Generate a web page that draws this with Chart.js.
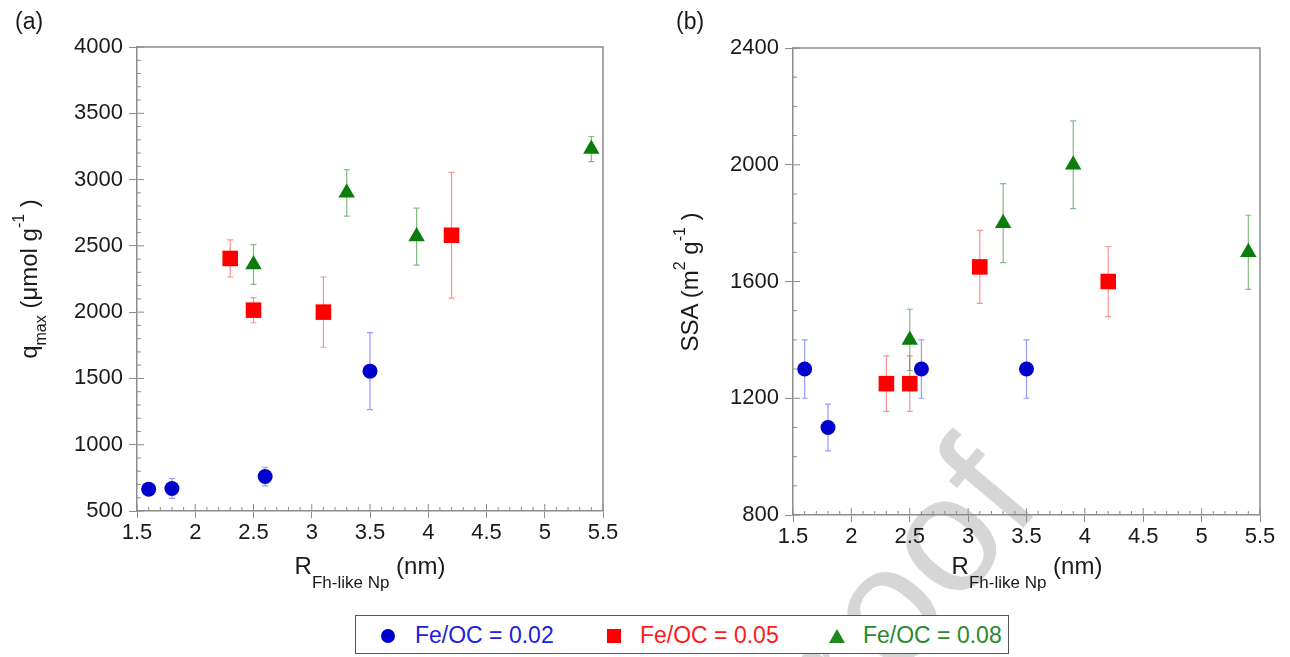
<!DOCTYPE html>
<html>
<head>
<meta charset="utf-8">
<script src="https://cdn.jsdelivr.net/npm/chart.js@4.4.0/dist/chart.umd.min.js"></script>
<style>
  html, body { margin: 0; padding: 0; background: #fff; }
  body { width: 1290px; height: 657px; position: relative; overflow: hidden; font-family: "Liberation Sans", Arial, sans-serif; color: #1a1a1a; }
  .abs { position: absolute; }
  .panel { position: absolute; top: 10px; font-size: 23px; line-height: 23px; }
  .xtitle { position: absolute; top: 551px; width: 300px; text-align: center; font-size: 24px; line-height: 30px; white-space: nowrap; }
  .xtitle span { font-size: 17px; vertical-align: -14px; line-height: 0; }
  .ytitle { position: absolute; width: 300px; height: 30px; line-height: 30px; text-align: center; font-size: 24px; white-space: nowrap; transform: rotate(-90deg); }
  .ytitle sub { font-size: 16px; vertical-align: -9px; line-height: 0; }
  .ytitle sup { font-size: 16px; vertical-align: 13px; line-height: 0; }
  #watermark { position: absolute; width: 300px; height: 165px; line-height: 165px; text-align: center; font-size: 165px; color: #d6d6d6; white-space: nowrap; transform: rotate(-50deg); left: 759px; top: 494px; }
  #legend { position: absolute; left: 355px; top: 615px; width: 652px; height: 37px; border: 1.5px solid #555; background: #fff; }
  .ltext { position: absolute; top: 615px; line-height: 40px; font-size: 23px; white-space: nowrap; }
</style>
</head>
<body>
<div id="watermark">roof</div>
<canvas id="chartA" class="abs" width="640" height="600" style="left:0;top:0"></canvas>
<canvas id="chartB" class="abs" width="650" height="600" style="left:640px;top:0"></canvas>

<div class="panel" style="left:15px">(a)</div>
<div class="panel" style="left:676px">(b)</div>

<div class="ytitle" style="left:-121px;top:264px">q<sub>max</sub> (μmol g<sup>-1</sup> )</div>
<div class="ytitle" style="left:540px;top:267px">SSA (m<sup>2</sup> g<sup>-1</sup> )</div>

<div class="xtitle" style="left:220px">R<span>Fh-like Np</span> (nm)</div>
<div class="xtitle" style="left:877px">R<span>Fh-like Np</span> (nm)</div>

<div id="legend"></div>
<div class="abs" style="left:381px;top:629px;width:14px;height:14px;border-radius:50%;background:#0000cc"></div>
<div class="ltext" style="left:415px;color:#2020dd">Fe/OC = 0.02</div>
<div class="abs" style="left:607px;top:629px;width:14px;height:14px;background:#ff0000"></div>
<div class="ltext" style="left:640px;color:#ff1a1a">Fe/OC = 0.05</div>
<div class="abs" style="left:829px;top:629px;width:0;height:0;border-left:8px solid transparent;border-right:8px solid transparent;border-bottom:14px solid #1e8a1e"></div>
<div class="ltext" style="left:863px;color:#2a8a2a">Fe/OC = 0.08</div>

<script>
// particle radius (nm) for each Fe/OC ratio
const r002 = [1.6, 1.8, 2.6, 3.5];
const r005 = [2.3, 2.5, 3.1, 4.2];
const r008 = [2.5, 3.3, 3.9, 5.4];

// (a) q_max (µmol/g) and errors
const qmax002 = [665, 670, 760, 1555];
const qmaxErr002 = [30, 75, 70, 290];
const qmax005 = [2405, 2015, 2000, 2580];
const qmaxErr005 = [140, 95, 265, 475];
const qmax008 = [2360, 2900, 2570, 3230];
const qmaxErr008 = [150, 175, 215, 95];

// (b) SSA (m2/g) and errors
const ssa002 = [1300, 1100, 1300, 1300];
const ssaErr002 = [100, 80, 100, 100];
const ssa005 = [1250, 1250, 1650, 1600];
const ssaErr005 = [95, 95, 125, 120];
const ssa008 = [1400, 1800, 2000, 1700];
const ssaErr008 = [105, 135, 150, 127];

const seriesLabels = ["Fe/OC = 0.02", "Fe/OC = 0.05", "Fe/OC = 0.08"];
const xTicks = [1.5, 2, 2.5, 3, 3.5, 4, 4.5, 5, 5.5];

const FONT = "'Liberation Sans', Arial, sans-serif";
const AXIS = "#8c8c8c";

function pts(xs, ys) {
    return xs.map((x, i) => ({ x: x, y: ys[i] }));
}

// draw error bars under the markers
const errorBars = {
    id: "errorBars",
    beforeDatasetsDraw(chart) {
        const ctx = chart.ctx;
        const x = chart.scales.x, y = chart.scales.y;
        chart.data.datasets.forEach(ds => {
            ctx.save();
            ctx.strokeStyle = ds.errColor;
            ctx.lineWidth = 1.2;
            ds.data.forEach((p, i) => {
                const e = ds.errors[i];
                const px = x.getPixelForValue(p.x);
                const top = y.getPixelForValue(p.y + e);
                const bot = y.getPixelForValue(p.y - e);
                ctx.beginPath();
                ctx.moveTo(px, top); ctx.lineTo(px, bot);
                ctx.moveTo(px - 3, top); ctx.lineTo(px + 3, top);
                ctx.moveTo(px - 3, bot); ctx.lineTo(px + 3, bot);
                ctx.stroke();
            });
            ctx.restore();
        });
    }
};

// box frame + inner major / minor ticks
const frameTicks = {
    id: "frameTicks",
    afterDraw(chart, args, opts) {
        const ctx = chart.ctx, a = chart.chartArea;
        const x = chart.scales.x, y = chart.scales.y;
        ctx.save();
        ctx.strokeStyle = AXIS;
        ctx.lineWidth = 1.5;
        ctx.beginPath();
        ctx.moveTo(a.left, a.top); ctx.lineTo(a.right, a.top); ctx.lineTo(a.right, a.bottom);
        ctx.stroke();
        ctx.lineWidth = 1;
        ctx.beginPath();
        const nx = Math.round((x.max - x.min) / opts.xMinor);
        for (let i = 0; i <= nx; i++) {
            const len = i % opts.xEvery === 0 ? 7 : 4;
            const px = x.getPixelForValue(x.min + i * opts.xMinor);
            ctx.moveTo(px, a.bottom); ctx.lineTo(px, a.bottom - len);
        }
        const ny = Math.round((y.max - y.min) / opts.yMinor);
        for (let i = 0; i <= ny; i++) {
            const len = i % opts.yEvery === 0 ? 7 : 4;
            const py = y.getPixelForValue(y.min + i * opts.yMinor);
            ctx.moveTo(a.left, py); ctx.lineTo(a.left + len, py);
        }
        ctx.stroke();
        ctx.restore();
    }
};

function makeChart(id, ys, errs, cfg) {
    const styles = [
        { color: "#0000cc", err: "rgba(70,70,255,0.55)", shape: "circle", r: 7.5 },
        { color: "#ff0000", err: "rgba(255,70,70,0.6)", shape: "rect", r: 11 },
        { color: "#0a7d0a", err: "rgba(30,130,30,0.55)", shape: "triangle", r: 9.5 }
    ];
    const xs = [r002, r005, r008];
    const datasets = ys.map((yv, k) => ({
        label: seriesLabels[k],
        data: pts(xs[k], yv),
        errors: errs[k],
        errColor: styles[k].err,
        pointStyle: styles[k].shape,
        pointRadius: styles[k].r,
        pointBackgroundColor: styles[k].color,
        pointBorderWidth: 0,
        showLine: false
    }));

    return new Chart(document.getElementById(id), {
        type: "scatter",
        data: { datasets: datasets },
        options: {
            responsive: false,
            animation: false,
            devicePixelRatio: 1,
            layout: { padding: { top: cfg.top, right: cfg.right, bottom: 0, left: 0 } },
            plugins: {
                legend: { display: false },
                tooltip: { enabled: false },
                frameTicks: { xMinor: 0.1, xEvery: 5, yMinor: cfg.yMinor, yEvery: cfg.yEvery }
            },
            scales: {
                x: {
                    type: "linear", min: 1.5, max: 5.5,
                    afterBuildTicks: s => { s.ticks = xTicks.map(v => ({ value: v })); },
                    ticks: {
                        color: "#1a1a1a", font: { family: FONT, size: 22 }, padding: 2,
                        maxRotation: 0, autoSkip: false,
                        callback: v => String(Math.round(v * 10) / 10)
                    },
                    grid: { drawOnChartArea: false, drawTicks: true, tickLength: 7, color: AXIS, lineWidth: 1 },
                    border: { color: AXIS, width: 1.5 },
                    afterFit: s => { s.height = cfg.xh; }
                },
                y: {
                    type: "linear", min: cfg.yMin, max: cfg.yMax,
                    ticks: {
                        stepSize: cfg.yStep, color: "#1a1a1a", font: { family: FONT, size: 22 }, padding: 6,
                        callback: v => String(v)
                    },
                    grid: { drawOnChartArea: false, drawTicks: true, tickLength: 8, color: AXIS, lineWidth: 1 },
                    border: { color: AXIS, width: 1.5 },
                    afterFit: s => { s.width = cfg.yw; }
                }
            }
        },
        plugins: [errorBars, frameTicks]
    });
}

makeChart("chartA", [qmax002, qmax005, qmax008], [qmaxErr002, qmaxErr005, qmaxErr008],
    { yMin: 500, yMax: 4000, yStep: 500, yMinor: 100, yEvery: 5, top: 47, right: 37, xh: 89, yw: 137 });

makeChart("chartB", [ssa002, ssa005, ssa008], [ssaErr002, ssaErr005, ssaErr008],
    { yMin: 800, yMax: 2400, yStep: 400, yMinor: 100, yEvery: 4, top: 48, right: 30, xh: 85, yw: 153 });
</script>
</body>
</html>
